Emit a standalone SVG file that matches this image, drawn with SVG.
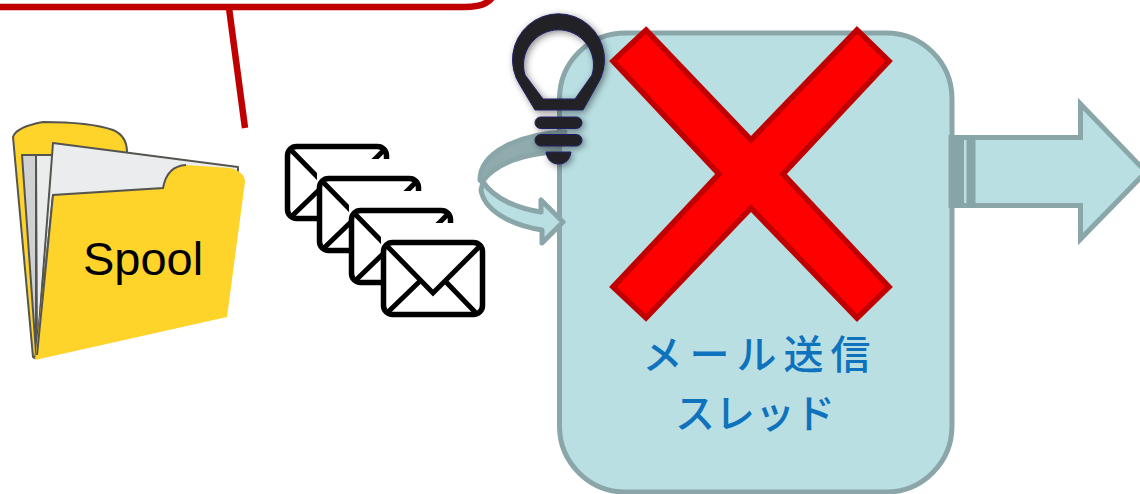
<svg xmlns="http://www.w3.org/2000/svg" xmlns:xlink="http://www.w3.org/1999/xlink" width="1140" height="494" viewBox="0 0 1140 494">
<style>
.teal{fill:#b9dfe3;stroke:#8aa6a9;stroke-width:5;stroke-linejoin:round}
.red{fill:none;stroke:#c00000;stroke-width:6.500}
.dark{fill:#232326;stroke:#1f1f6b;stroke-width:1}
.env{fill:#fff;stroke:#000;stroke-width:5.500;stroke-linejoin:round}
.line{fill:none;stroke:#000;stroke-width:5;stroke-linecap:round}
.folder{stroke:#55554f;stroke-width:2;stroke-linejoin:round}
.lbl{font-family:"Noto Sans CJK JP","Noto Sans",sans-serif;font-weight:500;font-size:40px;fill:#0f72bd;text-anchor:middle}
</style>
<defs>
<filter id="bulbShadow" x="-30%" y="-30%" width="160%" height="160%"><feDropShadow dx="2" dy="2" stdDeviation="3.5" flood-color="#000" flood-opacity="0.45"/></filter>
<filter id="soft" x="-5%" y="-5%" width="110%" height="110%"><feGaussianBlur stdDeviation="0.7"/></filter>
<clipPath id="backEnv"><path d="M-3,-3H110V15H32V80H-3Z"/></clipPath>
<g id="envelope">
<rect class="env" x="2.500" y="2.500" width="99" height="72" rx="9"/>
<path class="line" d="M6,6L52,53L99,6M7,72L37,43M94,72L66,43"/>
</g>
</defs>

<g id="connectors">
<path class="red" d="M-10,7H465Q489,7 494,-6"/>
<path class="red" d="M229,8L245,128"/>
</g>

<g id="spool">
<g filter="url(#soft)">
<path class="folder" fill="#fed32c" d="M13,137Q16,127 43,122Q90,122 113,130Q127,136 127,152L60,200L35,358L33,357Z"/>
<path class="folder" fill="#cfd1d3" d="M22,155H36L36,353Z"/>
<path class="folder" fill="#ebecee" d="M36,155H53L37,353Z"/>
<path class="folder" fill="#ebecee" d="M53,143L238,167V175L163,190L53,196L37,353Z"/>
<path fill="#fed32c" d="M53,195L163,188Q167,166 186,165L230,168Q245,172 245,182L227,317L35,360Z"/>
<path fill="none" stroke="#55554f" stroke-width="2" d="M37,355L53,195L163,188Q167,166 186,165"/>
</g>
<text x="143" y="275" font-family="'Liberation Sans',Arial,sans-serif" font-size="47" fill="#000" text-anchor="middle">Spool</text>
</g>

<g id="mails">
<use xlink:href="#envelope" href="#envelope" transform="translate(285,144)" clip-path="url(#backEnv)"/>
<use xlink:href="#envelope" href="#envelope" transform="translate(317,176)" clip-path="url(#backEnv)"/>
<use xlink:href="#envelope" href="#envelope" transform="translate(349,208)" clip-path="url(#backEnv)"/>
<use xlink:href="#envelope" href="#envelope" transform="translate(381,240)"/>
</g>

<g id="thread">
<rect class="teal" x="559.500" y="33" width="392.500" height="459" rx="66"/>
<text class="lbl" x="760" y="369" letter-spacing="7">メール送信</text>
<text class="lbl" x="755" y="428">スレッド</text>
</g>

<g id="loop">
<path class="teal" d="M481,190C484,210 510,225 542,230V243L563,222L541,200V212C520,209 495,200 483,182Z"/>
<path d="M480,180C480,152 520,134 565,132L558,152C525,153 496,163 482,182Z" fill="#8fabae" stroke="#8aa6a9" stroke-width="5" stroke-linejoin="round"/>
</g>

<g id="output">
<path class="teal" d="M951,137.500H1080.500V104L1146,172L1080.500,239V205.500H951Z" style="stroke-linejoin:miter"/>
<rect x="951" y="135" width="13" height="73" fill="#87a5a8"/>
<rect x="966.500" y="135" width="9" height="73" fill="#87a5a8"/>
</g>

<g id="cross">
<path fill="#ff0000" stroke="#c00000" stroke-width="5.500" stroke-linejoin="miter" d="M646,30L751,140L857,30L889,61L783,174L889,287L857,318L751,208L646,318L613,287L719,174L613,61Z"/>
</g>

<g id="bulb" filter="url(#bulbShadow)">
<path class="dark" fill-rule="evenodd" d="M535,110L520,85A46,46 0 1 1 597,85L583,110ZM543,99H575L592,75A35,35 0 1 0 525,75Z"/>
<rect class="dark" x="535" y="117" width="47" height="11.500" rx="5.700"/>
<rect class="dark" x="535" y="134.500" width="47" height="11.500" rx="5.700"/>
<path class="dark" d="M546,152H571C570,160 565,164 558.500,164C552,164 547,160 546,152Z"/>
</g>
</svg>
